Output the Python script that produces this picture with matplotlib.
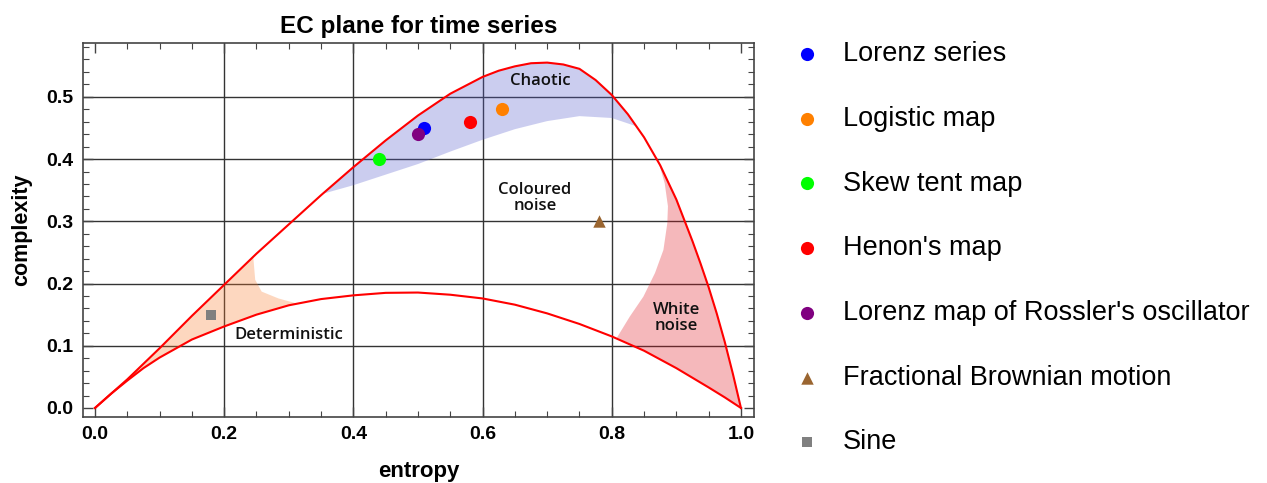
import numpy as np
import matplotlib
matplotlib.use("Agg")
import matplotlib.pyplot as plt
from matplotlib.ticker import MultipleLocator

plt.rcParams['font.family'] = ['Liberation Sans', 'DejaVu Sans']

# upper (maximum complexity) boundary
upper_x = [0.0, 0.025, 0.05, 0.075, 0.1, 0.15, 0.2, 0.25, 0.3, 0.35, 0.4, 0.45, 0.5,
           0.55, 0.6, 0.625, 0.65, 0.675, 0.7, 0.725, 0.75, 0.775, 0.8, 0.825, 0.85,
           0.875, 0.9, 0.925, 0.9375, 0.95, 0.9625, 0.975, 0.9875, 1.0]
upper_y = [0.0, 0.023, 0.046, 0.071, 0.096, 0.148, 0.198, 0.248, 0.295, 0.342, 0.387,
           0.430, 0.470, 0.505, 0.532, 0.542, 0.549, 0.554, 0.555, 0.552, 0.545, 0.527,
           0.503, 0.472, 0.435, 0.390, 0.335, 0.268, 0.232, 0.194, 0.152, 0.106, 0.055, 0.0]

# lower (minimum complexity) boundary
lower_x = [0.0, 0.025, 0.05, 0.075, 0.1, 0.15, 0.2, 0.25, 0.3, 0.35, 0.4, 0.45, 0.5,
           0.55, 0.6, 0.65, 0.7, 0.75, 0.8, 0.85, 0.9, 0.95, 0.975, 1.0]
lower_y = [0.0, 0.023, 0.044, 0.064, 0.081, 0.110, 0.131, 0.150, 0.165, 0.175, 0.181,
           0.185, 0.1855, 0.182, 0.176, 0.166, 0.152, 0.135, 0.115, 0.092, 0.064, 0.033,
           0.017, 0.0]

# inner edges of the shaded regions
chaotic_x = [0.352, 0.40, 0.45, 0.50, 0.55, 0.60, 0.65, 0.70, 0.75, 0.80, 0.84]
chaotic_y = [0.344, 0.358, 0.375, 0.392, 0.412, 0.431, 0.448, 0.461, 0.469, 0.466, 0.452]
determ_x = [0.245, 0.248, 0.258, 0.284, 0.312]
determ_y = [0.243, 0.206, 0.187, 0.176, 0.168]
white_x = [0.870, 0.882, 0.887, 0.886, 0.880, 0.867, 0.849, 0.828, 0.808]
white_y = [0.404, 0.361, 0.324, 0.297, 0.254, 0.217, 0.179, 0.147, 0.113]

# time series positions (entropy, complexity)
series = ["Lorenz series", "Logistic map", "Skew tent map", "Henon's map",
          "Lorenz map of Rossler's oscillator", "Fractional Brownian motion", "Sine"]
entropy = [0.51, 0.63, 0.44, 0.58, 0.50, 0.78, 0.18]
complexity = [0.45, 0.48, 0.40, 0.46, 0.44, 0.30, 0.15]
colors = ["#0000ff", "#ff8000", "#00ff00", "#ff0000", "#800080", "#9a6530", "#808080"]
markers = ["o", "o", "o", "o", "o", "^", "s"]
sizes = [90, 90, 90, 90, 90, 80, 45]

upper_x = np.array(upper_x); upper_y = np.array(upper_y)
lower_x = np.array(lower_x); lower_y = np.array(lower_y)

fig = plt.figure(figsize=(12.67, 4.83), dpi=100)
ax = fig.add_axes([0.0653, 0.1373, 0.53, 0.7743])

for gx in [0.2, 0.4, 0.6, 0.8]:
    ax.axvline(gx, color="#333333", lw=1.0, zorder=0)
for gy in [0.1, 0.2, 0.3, 0.4, 0.5]:
    ax.axhline(gy, color="#333333", lw=1.0, zorder=0)

# chaotic band
m = (upper_x > chaotic_x[0]) & (upper_x < chaotic_x[-1])
px = np.concatenate([[chaotic_x[0]], upper_x[m], chaotic_x[::-1]])
py = np.concatenate([[chaotic_y[0]], upper_y[m], chaotic_y[::-1]])
ax.fill(px, py, color=(85/255, 92/255, 205/255), alpha=0.3, lw=0, zorder=1)

# deterministic wedge
mu = upper_x < determ_x[0]
ml = lower_x < determ_x[-1]
px = np.concatenate([upper_x[mu], determ_x, lower_x[ml][::-1]])
py = np.concatenate([upper_y[mu], determ_y, lower_y[ml][::-1]])
ax.fill(px, py, color=(250/255, 125/255, 45/255), alpha=0.3, lw=0, zorder=1)

# white noise wedge
mu = upper_x > white_x[0]
ml = lower_x > white_x[-1]
px = np.concatenate([white_x, lower_x[ml], upper_x[mu][::-1]])
py = np.concatenate([white_y, lower_y[ml], upper_y[mu][::-1]])
ax.fill(px, py, color=(222/255, 22/255, 32/255), alpha=0.3, lw=0, zorder=1)

ax.plot(upper_x, upper_y, color="#ff0000", lw=1.5, zorder=3, solid_joinstyle="round")
ax.plot(lower_x, lower_y, color="#ff0000", lw=1.5, zorder=3, solid_joinstyle="round")

handles = []
for i in range(len(series)):
    h = ax.scatter(entropy[i], complexity[i], s=sizes[i], c=colors[i], marker=markers[i],
                   lw=0, zorder=4, label=series[i])
    handles.append(h)

note = dict(family=["Open Sans", "DejaVu Sans"], fontweight="semibold", fontsize=12,
            ha="center", va="center", color="#111111", linespacing=1.0)
ax.text(0.689, 0.525, "Chaotic", **note)
ax.text(0.681, 0.338, "Coloured\nnoise", **note)
ax.text(0.300, 0.117, "Deterministic", **note)
ax.text(0.900, 0.145, "White\nnoise", **note)

ax.set_xlim(-0.019, 1.0206)
ax.set_ylim(-0.014, 0.587)
ax.xaxis.set_major_locator(MultipleLocator(0.2))
ax.xaxis.set_minor_locator(MultipleLocator(0.05))
ax.yaxis.set_major_locator(MultipleLocator(0.1))
ax.yaxis.set_minor_locator(MultipleLocator(0.02))
ax.xaxis.set_major_formatter(plt.FormatStrFormatter("%.1f"))
ax.yaxis.set_major_formatter(plt.FormatStrFormatter("%.1f"))
ax.tick_params(which="both", direction="in", top=True, right=True, color="#444444")
ax.tick_params(which="major", length=7, width=1.0, labelsize=14, pad=7)
ax.tick_params(which="minor", length=4, width=0.8)
for lab in ax.get_xticklabels() + ax.get_yticklabels():
    lab.set_fontweight("bold")
for sp in ax.spines.values():
    sp.set_color("#444444")
    sp.set_linewidth(1.2)

ax.set_xlabel("entropy", fontsize=16, fontweight="bold", labelpad=13)
ax.set_ylabel("complexity", fontsize=15.5, fontweight="bold", labelpad=10)
ax.set_title("EC plane for time series", fontsize=17.5, fontweight="bold", pad=7)

fig.legend(handles=handles, loc="upper left", bbox_to_anchor=(0.6263, 0.915),
           frameon=False, fontsize=19.5, labelspacing=1.43, handlelength=1.0,
           handletextpad=0.83, borderpad=0, borderaxespad=0, markerscale=1.0)

fig.savefig("out.png", dpi=100)
